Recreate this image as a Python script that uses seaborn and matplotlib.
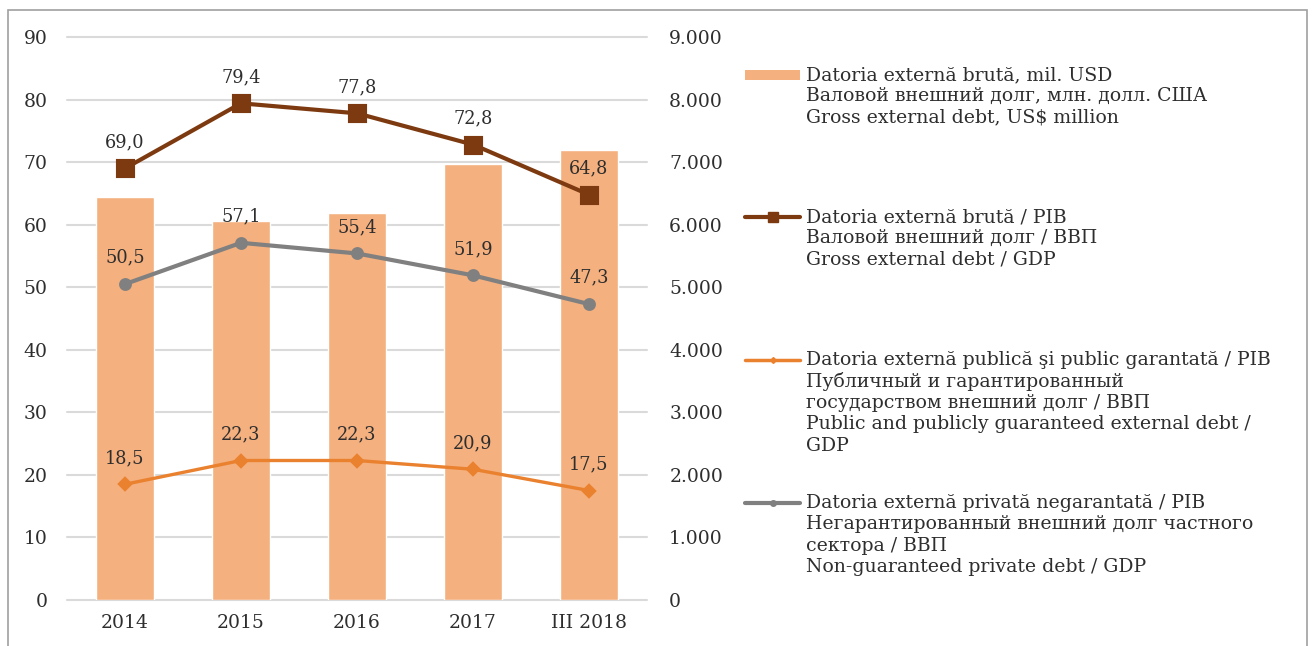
import matplotlib
matplotlib.use("Agg")
import matplotlib.pyplot as plt
import seaborn as sns
from matplotlib.lines import Line2D
from matplotlib.patches import Rectangle
from matplotlib.ticker import FuncFormatter, MultipleLocator

# data
years = ["2014", "2015", "2016", "2017", "III 2018"]
gross_debt_usd = [6450, 6060, 6190, 6965, 7195]
gross_debt_gdp = [69.0, 79.4, 77.8, 72.8, 64.8]
private_debt_gdp = [50.5, 57.1, 55.4, 51.9, 47.3]
public_debt_gdp = [18.5, 22.3, 22.3, 20.9, 17.5]

legend_bar = ["Datoria externă brută, mil. USD",
              "Валовой внешний долг, млн. долл. США",
              "Gross external debt, US$ million"]
legend_gross = ["Datoria externă brută / PIB",
                "Валовой внешний долг / ВВП",
                "Gross external debt / GDP"]
legend_public = ["Datoria externă publică şi public garantată / PIB",
                 "Публичный и гарантированный",
                 "государством внешний долг / ВВП",
                 "Public and publicly guaranteed external debt /",
                 "GDP"]
legend_private = ["Datoria externă privată negarantată / PIB",
                  "Негарантированный внешний долг частного",
                  "сектора / ВВП",
                  "Non-guaranteed private debt / GDP"]

bar_c = "#f4b07f"
brown = "#7d3a10"
orange = "#ea812f"
grey = "#808080"
txt = "#2e2e2e"

sns.set_style("white")
plt.rcParams["font.family"] = ["DejaVu Serif"]

W, H = 1314, 646
fig = plt.figure(figsize=(W / 100, H / 100), dpi=100)
ax = fig.add_axes([67 / W, 1 - 600 / H, 580 / W, 563 / H])
ax2 = ax.twinx()

# bars on the right axis
sns.barplot(x=years, y=gross_debt_usd, ax=ax2, color=bar_c, saturation=1, width=0.5)
ax2.set_ylim(0, 9000)
ax2.yaxis.set_major_locator(MultipleLocator(1000))
ax2.yaxis.set_major_formatter(FuncFormatter(lambda v, p: f"{int(v):,}".replace(",", ".")))
ax2.yaxis.grid(True, color="#dadada", lw=1.5)
ax2.set_axisbelow(True)
for gl in ax2.get_ygridlines():
    gl.set_clip_on(False)

# lines on the left axis
series = [
    (gross_debt_gdp, brown, "s", 11, 3.0),
    (private_debt_gdp, grey, "o", 7, 3.0),
    (public_debt_gdp, orange, "D", 6, 2.4),
]
for vals, c, m, ms, lw in series:
    sns.pointplot(x=years, y=vals, ax=ax, color=c, markers=m, linestyles="-",
                  markersize=ms, linewidth=lw, errorbar=None)
    for i, v in enumerate(vals):
        ax.annotate(f"{v:.1f}".replace(".", ","), (i, v), xytext=(0, 19),
                    textcoords="offset points", ha="center", va="center",
                    fontsize=12.8, color=txt)

ax.set_ylim(0, 90)
ax.yaxis.set_major_locator(MultipleLocator(10))
ax.grid(False)
ax.set_zorder(ax2.get_zorder() + 1)
ax.patch.set_visible(False)
ax.set_xlabel("")
ax.set_ylabel("")
ax2.set_ylabel("")

for a in (ax, ax2):
    for s in a.spines.values():
        s.set_visible(False)
ax.tick_params(axis="y", length=0, pad=14, labelsize=13.5, labelcolor=txt)
ax.tick_params(axis="x", length=0, pad=10, labelsize=13.5, labelcolor=txt)
ax2.tick_params(axis="y", length=0, pad=16, labelsize=13.5, labelcolor=txt)


def px(x, y):
    return x / W, 1 - y / H


# legend drawn by hand so handles sit on the first text line
def legend_entry(lines, y0, kind, color, marker=None, ms=0, lw=3):
    x0, x1 = 745, 800
    if kind == "bar":
        fx, fy = px(x0, y0 + 5)
        fig.add_artist(Rectangle((fx, fy), (x1 - x0) / W, 10 / H,
                                 transform=fig.transFigure, color=color, lw=0))
    else:
        xs = [px(x0, y0)[0], px((x0 + x1) / 2, y0)[0], px(x1, y0)[0]]
        ys = [px(0, y0)[1]] * 3
        fig.add_artist(Line2D(xs, ys, transform=fig.transFigure, color=color, lw=lw,
                              marker=marker, markersize=ms, markevery=[1]))
    for k, line in enumerate(lines):
        fx, fy = px(806, y0 + k * 21.4)
        fig.text(fx, fy, line, ha="left", va="center", fontsize=13.6, color=txt)


legend_entry(legend_bar, 75, "bar", bar_c)
legend_entry(legend_gross, 217, "line", brown, "s", 7, 3)
legend_entry(legend_public, 360, "line", orange, "D", 3, 2.5)
legend_entry(legend_private, 503, "line", grey, "o", 4, 3)

# outer frame
fig.add_artist(Rectangle((8 / W, -0.02), (1307 - 8) / W, 1 - 10 / H + 0.02,
                         transform=fig.transFigure, fill=False, ec="#a0a0a0", lw=1.2))

fig.savefig("out.png", dpi=100)
